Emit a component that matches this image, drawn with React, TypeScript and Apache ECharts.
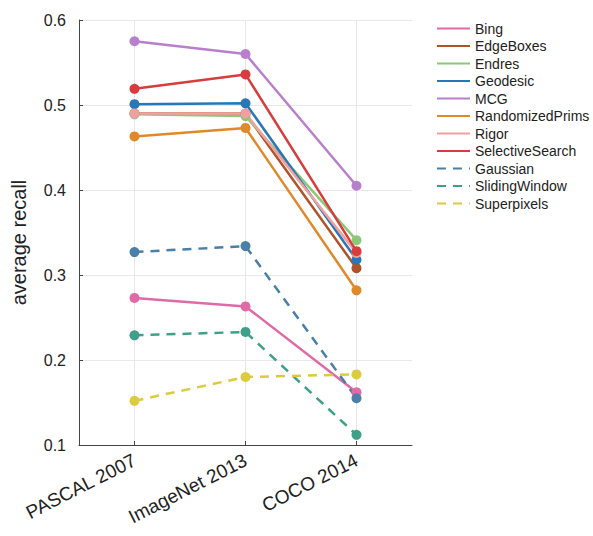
import React, { useEffect, useRef } from "react";
import * as echarts from "echarts";

const categories = ["PASCAL 2007", "ImageNet 2013", "COCO 2014"];
const yTicks = [0.1, 0.2, 0.3, 0.4, 0.5, 0.6];

const seriesNames = [
  "Bing",
  "EdgeBoxes",
  "Endres",
  "Geodesic",
  "MCG",
  "RandomizedPrims",
  "Rigor",
  "SelectiveSearch",
  "Gaussian",
  "SlidingWindow",
  "Superpixels",
];

const bing = [0.273, 0.263, 0.162];
const edgeBoxes = [0.49, 0.49, 0.308];
const endres = [0.489, 0.487, 0.341];
const geodesic = [0.501, 0.502, 0.318];
const mcg = [0.575, 0.56, 0.405];
const randomizedPrims = [0.463, 0.473, 0.282];
const rigor = [0.49, 0.49, 0.326];
const selectiveSearch = [0.519, 0.536, 0.328];
const gaussian = [0.327, 0.334, 0.155];
const slidingWindow = [0.229, 0.233, 0.112];
const superpixels = [0.152, 0.18, 0.183];

const seriesValues = [
  bing,
  edgeBoxes,
  endres,
  geodesic,
  mcg,
  randomizedPrims,
  rigor,
  selectiveSearch,
  gaussian,
  slidingWindow,
  superpixels,
];

const seriesColors = [
  "#e06aa8",
  "#b0522a",
  "#8cc878",
  "#2878b8",
  "#b87fcc",
  "#e0892a",
  "#f0a0a0",
  "#d83c3c",
  "#4a7fa8",
  "#3fa08a",
  "#dccb3c",
];

const dashedSeries = ["Gaussian", "SlidingWindow", "Superpixels"];

const FONT = "'Liberation Sans', Arial, Helvetica, sans-serif";

export default function App() {
  const ref = useRef<HTMLDivElement>(null);

  useEffect(() => {
    if (!ref.current) return;
    const chart = echarts.init(ref.current, undefined, { renderer: "svg" });
    const series = seriesNames.map((name, i) => ({
      name,
      type: "line",
      data: seriesValues[i],
      symbol: "circle",
      symbolSize: 10,
      color: seriesColors[i],
      lineStyle: {
        width: 2.5,
        color: seriesColors[i],
        type: dashedSeries.includes(name) ? [9, 7] : "solid",
      },
      itemStyle: { color: seriesColors[i] },
      emphasis: { disabled: true },
    }));
    chart.setOption({
      animation: false,
      textStyle: { fontFamily: FONT },
      grid: { left: 79, right: 181, top: 20, bottom: 91 },
      legend: {
        orient: "vertical",
        left: 436,
        top: 21,
        padding: 0,
        itemWidth: 33,
        itemHeight: 8,
        itemGap: 2.5,
        itemStyle: { opacity: 0 },
        textStyle: {
          fontFamily: FONT,
          fontSize: 14,
          lineHeight: 15,
          color: "#222",
        },
        data: seriesNames,
      },
      xAxis: {
        type: "category",
        data: categories,
        boundaryGap: true,
        axisLine: { show: true, lineStyle: { color: "#444", width: 1 } },
        axisTick: {
          show: true,
          inside: true,
          alignWithLabel: true,
          length: 4,
          lineStyle: { color: "#444" },
        },
        splitLine: {
          show: true,
          alignWithLabel: true,
          lineStyle: { color: "#e8e8e8", width: 1 },
        },
        axisLabel: {
          rotate: 27,
          fontSize: 19,
          color: "#222",
          margin: 14,
          fontFamily: FONT,
        },
      },
      yAxis: {
        type: "value",
        min: yTicks[0],
        max: yTicks[yTicks.length - 1],
        interval: 0.1,
        name: "average recall",
        nameLocation: "middle",
        nameGap: 50,
        nameTextStyle: {
          fontSize: 20,
          color: "#222",
          fontFamily: FONT,
          padding: [0, 20, 0, 0],
        },
        axisLine: { show: true, lineStyle: { color: "#444", width: 1 } },
        axisTick: { show: true, inside: true, length: 4, lineStyle: { color: "#444" } },
        splitLine: { show: true, lineStyle: { color: "#e8e8e8", width: 1 } },
        axisLabel: {
          fontSize: 16,
          color: "#222",
          margin: 13,
          fontFamily: FONT,
          formatter: (v: number) => v.toFixed(1),
        },
      },
      series,
    });
    return () => chart.dispose();
  }, []);

  return (
    <div
      ref={ref}
      style={{ position: "absolute", left: 0, top: 0, width: 593, height: 536, background: "#fff" }}
    />
  );
}
